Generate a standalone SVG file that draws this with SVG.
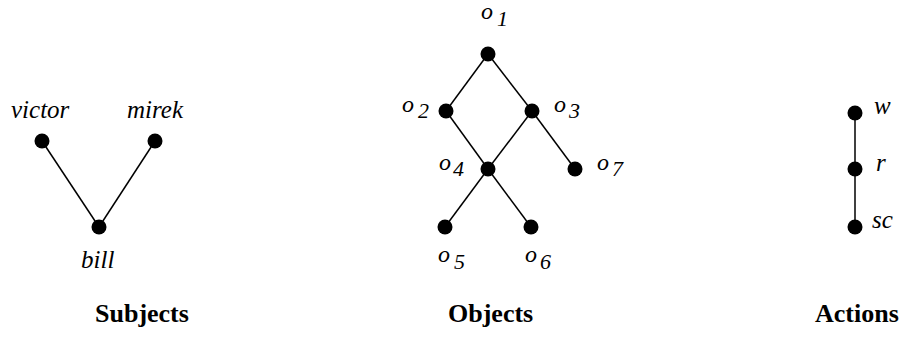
<svg xmlns="http://www.w3.org/2000/svg" width="911" height="354" viewBox="0 0 911 354">
<style>
.dot{fill:#000}
.edge{stroke:#000;stroke-width:1.5;fill:none}
</style>
<rect width="911" height="354" fill="#fff"/>
<g id="connectors">
<line class="edge" x1="42" y1="141" x2="99" y2="227"/>
<line class="edge" x1="155" y1="141" x2="99" y2="227"/>
<line class="edge" x1="488" y1="54" x2="446" y2="111"/>
<line class="edge" x1="488" y1="54" x2="532" y2="111"/>
<line class="edge" x1="446" y1="111" x2="488" y2="169"/>
<line class="edge" x1="532" y1="111" x2="488" y2="169"/>
<line class="edge" x1="532" y1="111" x2="575" y2="169"/>
<line class="edge" x1="488" y1="169" x2="445" y2="227"/>
<line class="edge" x1="488" y1="169" x2="531" y2="227"/>
<line class="edge" x1="855" y1="113" x2="855" y2="227"/>
</g>
<g id="victor"><circle class="dot" cx="42" cy="141" r="7.5"/><text font-family="'Liberation Serif', serif" font-style="italic" font-size="25" x="11" y="118">victor</text></g>
<g id="mirek"><circle class="dot" cx="155" cy="141" r="7.5"/><text font-family="'Liberation Serif', serif" font-style="italic" font-size="25" x="127" y="118">mirek</text></g>
<g id="bill"><circle class="dot" cx="99" cy="227" r="7.5"/><text font-family="'Liberation Serif', serif" font-style="italic" font-size="25" x="81" y="268">bill</text></g>
<g id="o1"><circle class="dot" cx="488" cy="54" r="7.5"/><text font-family="'Liberation Serif', serif" font-style="italic" font-size="24" x="481" y="19">o<tspan font-size="22" x="497" dy="7">1</tspan></text></g>
<g id="o2"><circle class="dot" cx="446" cy="111" r="7.5"/><text font-family="'Liberation Serif', serif" font-style="italic" font-size="24" x="402" y="112">o<tspan font-size="22" x="418" dy="6">2</tspan></text></g>
<g id="o3"><circle class="dot" cx="532" cy="111" r="7.5"/><text font-family="'Liberation Serif', serif" font-style="italic" font-size="24" x="554" y="112">o<tspan font-size="22" x="569" dy="6">3</tspan></text></g>
<g id="o4"><circle class="dot" cx="488" cy="169" r="7.5"/><text font-family="'Liberation Serif', serif" font-style="italic" font-size="24" x="439" y="170">o<tspan font-size="22" x="453" dy="6">4</tspan></text></g>
<g id="o7"><circle class="dot" cx="575" cy="169" r="7.5"/><text font-family="'Liberation Serif', serif" font-style="italic" font-size="24" x="597" y="170">o<tspan font-size="22" x="612" dy="6">7</tspan></text></g>
<g id="o5"><circle class="dot" cx="445" cy="227" r="7.5"/><text font-family="'Liberation Serif', serif" font-style="italic" font-size="24" x="438" y="262">o<tspan font-size="22" x="454" dy="7">5</tspan></text></g>
<g id="o6"><circle class="dot" cx="531" cy="227" r="7.5"/><text font-family="'Liberation Serif', serif" font-style="italic" font-size="24" x="525" y="262">o<tspan font-size="22" x="540" dy="7">6</tspan></text></g>
<g id="w"><circle class="dot" cx="855" cy="113" r="7.5"/><text font-family="'Liberation Serif', serif" font-style="italic" font-size="25" x="874" y="114">w</text></g>
<g id="r"><circle class="dot" cx="855" cy="169" r="7.5"/><text font-family="'Liberation Serif', serif" font-style="italic" font-size="25" x="876" y="171">r</text></g>
<g id="sc"><circle class="dot" cx="855" cy="227" r="7.5"/><text font-family="'Liberation Serif', serif" font-style="italic" font-size="25" x="872" y="228">sc</text></g>
<g id="titles">
<text font-family="'Liberation Serif', serif" font-weight="bold" font-size="26" x="95" y="322">Subjects</text>
<text font-family="'Liberation Serif', serif" font-weight="bold" font-size="26" x="448" y="322">Objects</text>
<text font-family="'Liberation Serif', serif" font-weight="bold" font-size="26" x="815" y="322">Actions</text>
</g>
</svg>
